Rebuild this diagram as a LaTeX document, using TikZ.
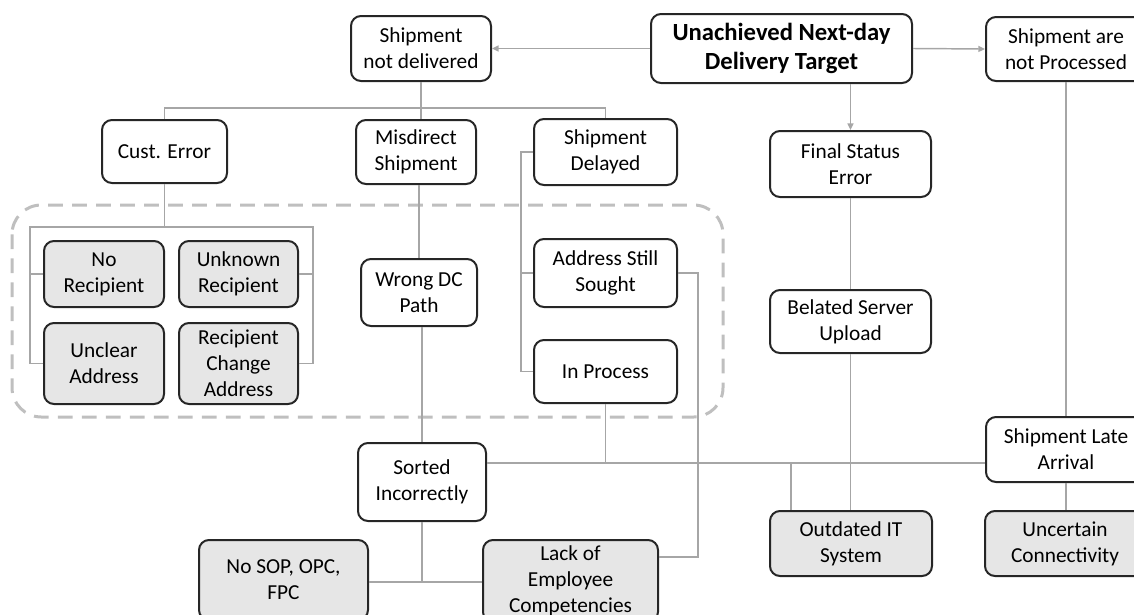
\documentclass[tikz,border=0pt]{standalone}
\usepackage{fontspec}
\setmainfont{Carlito}
\usetikzlibrary{arrows.meta}
\tikzset{every picture/.style={line width=0.75pt}}
\tikzset{
  box/.style 2 args={draw={rgb, 255:red, 38; green, 38; blue, 38}, line width=1.5pt, rounded corners=7.5pt, fill=white, align=center, inner sep=0pt, minimum width=#1*0.75pt, minimum height=#2*0.75pt, font=\fontsize{16}{19.5}\selectfont},
  gbox/.style 2 args={box={#1}{#2}, fill={rgb, 255:red, 230; green, 230; blue, 230}},
  link/.style={draw={rgb, 255:red, 166; green, 166; blue, 166}, line width=1.1pt},
  arr/.style={link, -{Triangle[length=5pt,width=4.5pt]}},
}

\begin{document}
\begin{tikzpicture}[x=0.75pt,y=0.75pt,yscale=-1,xscale=1]
\useasboundingbox (0,0) rectangle (1134,614);

%Rounded Rect (dashed group)
\draw [color={rgb, 255:red, 191; green, 191; blue, 191}, line width=2.25pt, dash pattern=on 11pt off 7pt, rounded corners=22pt] (12,205) rectangle (723,417);

% Boxes
\node [box={261}{69}, font=\fontsize{18.5}{21.5}\selectfont\bfseries] (target) at (781.5,48.5) {Unachieved Next-day\\Delivery Target};
\node [box={140}{65}] (notdel) at (421,48.5) {Shipment\\not delivered};
\node [box={160}{64}] (notproc) at (1066,49) {Shipment are\\not Processed};
\node [box={125}{63}] (cust) at (164.5,151.5) {Cust. Error};
\node [box={120}{64}] (misdir) at (416,152) {Misdirect\\Shipment};
\node [box={143}{66}] (delayed) at (605.5,152) {Shipment\\Delayed};
\node [box={161}{66}] (final) at (850.5,164) {Final Status\\Error};
\node [gbox={120}{66}] (norec) at (104,274) {No\\Recipient};
\node [gbox={119}{66}] (unknown) at (238.5,274) {Unknown\\Recipient};
\node [gbox={120}{81}] (unclear) at (104,363.5) {Unclear\\Address};
\node [gbox={119}{81}] (rchange) at (238.5,363.5) {Recipient\\Change\\Address};
\node [box={116}{67}] (wrongdc) at (419,292.5) {Wrong DC\\Path};
\node [box={143}{68}] (sought) at (605.5,273) {Address Still\\Sought};
\node [box={143}{63}] (inproc) at (605.5,371.5) {In Process};
\node [box={161}{63}] (belated) at (850.5,321.5) {Belated Server\\Upload};
\node [box={128}{78}] (sorted) at (422,482) {Sorted\\Incorrectly};
\node [box={160}{65}] (late) at (1066,449.5) {Shipment Late\\Arrival};
\node [gbox={169}{80}] (nosop) at (283.5,580) {No SOP, OPC,\\FPC};
\node [gbox={175}{82}] (lack) at (570.5,581) {Lack of\\Employee\\Competencies};
\node [gbox={162}{65}] (outdated) at (851,543.5) {Outdated IT\\System};
\node [gbox={160}{65}] (uncertain) at (1065,543.5) {Uncertain\\Connectivity};

% Junction points
\coordinate (tbar) at (421,108);
\coordinate (cl) at (30,227);
\coordinate (cr) at (313,227);
\coordinate (lk) at (698,557);
\coordinate (bus) at (0,463);
\coordinate (od) at (791,463);
\coordinate (bot) at (0,582);

%Straight Lines (arrows from target)
\draw [arr] (target.west) -- (notdel.east);
\draw [arr] (target.east) -- (notproc.west);
\draw [arr] (final.north |- target.south) -- (final.north);
%Straight Lines (not delivered branch)
\draw [link] (notdel.south) -- (notdel.south |- misdir.north);
\draw [link] (cust.north) |- (tbar) -| (delayed.north);
\draw [link] (cust.south) -- (cust.south |- cl);
\draw [link] (unclear.west) -| (cl) -- (cr) |- (rchange.east);
\draw [link] (norec.west) -- (norec.west -| cl);
\draw [link] (unknown.east) -- (unknown.east -| cr);
\draw [link] (wrongdc.north |- misdir.south) -- (wrongdc.north);
\draw [link] (sorted.north |- wrongdc.south) -- (sorted.north);
\draw [link] (delayed.west) -- ++(-12,0) |- (inproc.west);
\draw [link] (sought.west) -- ++(-12,0);
\draw [link] (sought.east) -| (lk) -- (lk -| lack.east);
%Straight Lines (bus)
\draw [link] (sorted.east |- bus) -- (late.west |- bus);
\draw [link] (inproc.south) -- (inproc.south |- bus);
\draw [link] (od) -- (od |- outdated.north);
%Straight Lines (right columns)
\draw [link] (final.south) -- (belated.north);
\draw [link] (belated.south) -- (belated.south |- outdated.north);
\draw [link] (notproc.south) -- (late.north);
\draw [link] (late.south) -- (late.south |- uncertain.north);
%Straight Lines (bottom)
\draw [link] (sorted.south) -- (sorted.south |- bot);
\draw [link] (nosop.east |- bot) -- (lack.west |- bot);

\end{tikzpicture}
\end{document}
